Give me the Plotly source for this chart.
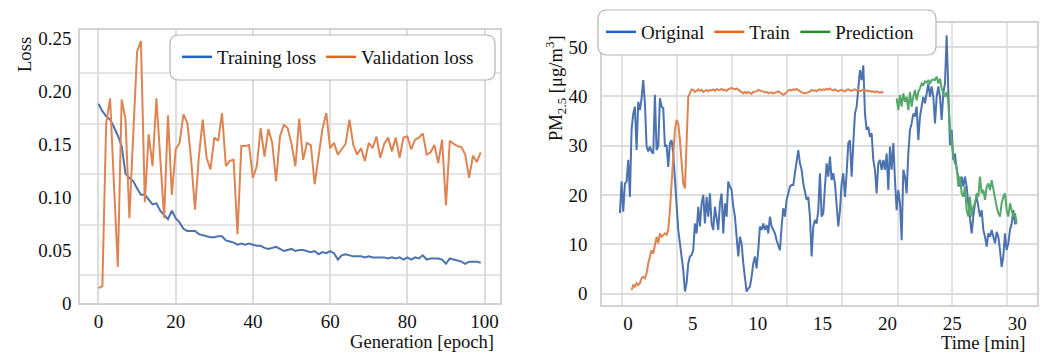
import plotly.graph_objects as go

W, H = 1044, 354
SERIF = "Liberation Serif, Times New Roman, serif"

# ---------------- training history ----------------
epochs = list(range(100))

training_loss = [
    0.188, 0.181, 0.176, 0.173, 0.166, 0.158, 0.148, 0.122, 0.118, 0.115,
    0.108, 0.102, 0.102, 0.097, 0.093, 0.094, 0.087, 0.083, 0.079, 0.087,
    0.080, 0.076, 0.070, 0.068, 0.068, 0.068, 0.065, 0.064, 0.063, 0.062,
    0.062, 0.063, 0.063, 0.059, 0.058, 0.057, 0.055, 0.056, 0.055, 0.056,
    0.055, 0.054, 0.054, 0.052, 0.051, 0.052, 0.053, 0.051, 0.049, 0.050,
    0.051, 0.049, 0.050, 0.050, 0.049, 0.048, 0.049, 0.046, 0.048, 0.047,
    0.049, 0.047, 0.041, 0.045, 0.046, 0.045, 0.044, 0.044, 0.044, 0.043,
    0.044, 0.043, 0.043, 0.043, 0.043, 0.042, 0.043, 0.042, 0.043, 0.041,
    0.043, 0.041, 0.043, 0.042, 0.045, 0.041, 0.042, 0.042, 0.042, 0.041,
    0.037, 0.042, 0.041, 0.040, 0.039, 0.037, 0.039, 0.039, 0.039, 0.038,
]

validation_loss = [
    0.014, 0.016, 0.170, 0.193, 0.113, 0.034, 0.192, 0.173, 0.080, 0.160,
    0.237, 0.247, 0.095, 0.159, 0.129, 0.193, 0.135, 0.080, 0.177, 0.102,
    0.145, 0.151, 0.178, 0.170, 0.135, 0.088, 0.138, 0.173, 0.137, 0.126,
    0.156, 0.153, 0.179, 0.129, 0.134, 0.135, 0.065, 0.148, 0.148, 0.149,
    0.118, 0.129, 0.165, 0.138, 0.164, 0.151, 0.115, 0.157, 0.168, 0.165,
    0.150, 0.129, 0.174, 0.135, 0.151, 0.149, 0.112, 0.140, 0.164, 0.179,
    0.146, 0.151, 0.140, 0.145, 0.150, 0.173, 0.149, 0.140, 0.146, 0.134,
    0.151, 0.146, 0.157, 0.137, 0.150, 0.156, 0.143, 0.156, 0.137, 0.156,
    0.157, 0.145, 0.154, 0.156, 0.160, 0.140, 0.142, 0.149, 0.132, 0.154,
    0.092, 0.153, 0.150, 0.148, 0.147, 0.140, 0.118, 0.139, 0.133, 0.142,
]

loss_ticks = [0, 0.05, 0.10, 0.15, 0.20, 0.25]
loss_tick_text = ["0", "0.05", "0.10", "0.15", "0.20", "0.25"]
epoch_ticks = [0, 20, 40, 60, 80, 100]

# ---------------- PM2.5 time series (sampled every T_STEP minutes) ----------------
T_STEP = 0.1285
original_start = -0.62
train_start = original_start + 7 * T_STEP
prediction_start = original_start + 166 * T_STEP

original_pm = [
    16.3, 22.7, 16.6, 22.3, 22.7, 27.1, 19.6, 33.2, 36.5, 37.9,
    29.1, 38.9, 37.2, 39.6, 43.3, 38.6, 29.8, 28.8, 29.8, 28.8,
    28.4, 40.3, 29.1, 29.8, 39.6, 37.9, 37.6, 29.8, 30.1, 25.7,
    30.5, 31.1, 28.4, 23.0, 16.3, 12.9, 10.2, 7.5, 4.8, 0.4,
    2.1, 6.1, 7.5, 7.8, 8.8, 14.2, 12.2, 17.6, 13.6, 18.3,
    20.0, 14.2, 19.6, 15.6, 20.3, 14.2, 12.9, 17.6, 14.9, 12.9,
    18.3, 20.3, 12.2, 18.3, 15.6, 22.7, 21.7, 21.0, 17.6, 15.6,
    11.5, 7.5, 11.5, 10.2, 6.1, 2.7, 0.4, 1.0,
    1.4, 3.4, 6.1, 7.5, 5.1, 8.8, 13.6, 12.9, 14.2, 12.9,
    13.9, 12.2, 15.6, 13.6, 12.9, 12.2, 10.8, 9.5, 8.8, 13.6,
    17.3, 15.6, 19.0, 20.3, 21.7, 22.0, 22.0, 24.4, 27.1, 29.1,
    26.4, 25.1, 22.3, 20.3, 19.0, 19.6, 15.6, 7.5, 13.6, 14.9,
    14.2, 16.9, 24.4, 15.6, 16.3, 21.7, 26.4, 23.7, 27.8, 23.0,
    24.4, 22.3, 17.6, 13.6, 16.9, 22.3, 24.4, 19.6, 24.4, 30.5,
    31.1, 23.7, 30.5, 36.5, 37.9, 41.3, 45.3, 43.3, 46.3, 36.5,
    33.2, 33.8, 31.8, 32.5, 27.1, 25.1, 20.3, 26.4, 27.1, 25.1,
    27.1, 25.1, 28.4, 21.0,
    29.8, 25.1, 30.5, 23.0, 16.9, 21.0, 18.3, 10.8, 25.1, 23.7,
    20.3, 28.4, 33.2, 34.5, 36.5, 35.9, 37.9, 31.1, 35.9, 37.9,
    39.9, 38.6, 40.9, 42.6, 39.9, 42.0, 39.9, 34.5, 39.9, 42.0,
    39.9, 35.2, 40.6, 42.6, 52.4, 39.9, 30.1, 33.2, 27.1, 28.4,
    25.1, 23.7, 21.7, 23.7, 21.7, 23.7, 21.7, 18.3, 14.9, 12.2,
    15.6, 18.3, 19.6, 17.6, 15.6, 16.9, 12.9, 11.5, 9.5, 12.2,
    11.5, 12.9, 11.5, 10.2, 12.5, 11.5, 8.8, 5.4, 7.5, 12.2,
    8.8, 10.2, 12.9, 14.2, 16.9, 14.2, 14.2,
]

train_pm = [
    0.7, 1.7, 1.4, 2.1, 1.7, 2.1, 3.1, 3.4, 3.1, 4.1,
    6.1, 7.5, 8.8, 8.1, 10.2, 11.5, 10.2, 12.2, 11.5, 11.9,
    12.2, 11.9, 12.9, 16.9, 22.3, 27.8, 33.2, 35.2, 34.5, 31.1,
    25.7, 22.3, 21.3, 31.1, 39.9, 40.6, 41.4,
    41.3, 40.9, 41.1, 41.4, 41.1, 41.3, 40.9, 41.1, 41.3, 41.0,
    41.3, 41.2, 41.4, 41.1, 41.5, 41.3, 41.3, 41.5, 41.2, 41.3,
    41.1, 41.4, 41.5, 41.7, 41.5, 41.4, 41.6, 41.3, 41.1, 40.9,
    40.6, 40.9, 40.6, 40.9, 40.7, 40.5, 40.9, 41.0,
    41.0, 41.3, 41.2, 41.0, 40.9, 40.8, 40.9, 40.6, 40.7, 40.8,
    40.6, 40.7, 40.9, 41.0, 40.8, 40.6, 40.3, 40.5, 40.9, 41.2,
    41.3, 41.2, 41.4, 41.3, 41.5, 41.2, 41.0, 40.8, 40.7, 40.6,
    40.7, 40.8, 41.0, 41.3, 41.1, 41.2, 41.0, 41.3, 41.4, 41.2,
    41.4, 41.3, 41.5, 41.4, 41.6, 41.3, 41.2, 41.4, 41.2, 41.0,
    41.2, 41.3, 41.1, 41.0, 41.3, 41.4, 41.2, 41.1, 41.3, 41.4,
    41.2, 41.3, 41.0, 41.2, 41.4, 41.1, 41.2, 41.0, 41.1, 40.9,
    41.0, 40.8, 41.0, 40.9, 40.7, 40.9, 40.6,
]

prediction_pm = [
    39.6, 37.2, 40.3, 37.9, 40.6, 38.9, 39.9, 37.2, 40.9, 37.9,
    39.9, 41.3, 39.2, 40.9, 41.6, 42.6, 42.3, 43.0, 42.8, 43.3,
    42.6, 43.3, 43.4, 43.3, 44.0, 42.6, 43.6, 41.6, 40.6, 39.9,
    40.9, 38.9, 33.8, 31.1, 27.8, 26.4, 25.7, 21.7, 23.7, 20.3,
    19.6, 21.7, 16.9, 15.6, 19.6, 15.6, 17.6, 18.3, 20.3, 19.6,
    23.7, 20.3, 21.0, 19.0, 21.7, 22.3, 21.0, 23.0, 21.0, 19.6,
    17.6, 16.3, 15.6, 18.3, 19.6, 20.3, 16.9, 15.6, 18.3, 16.9,
    15.6, 16.3, 14.2,
]

pm_ticks = [0, 10, 20, 30, 40, 50]
time_ticks = [0, 5, 10, 15, 20, 25, 30]


def sample_times(start, values):
    return [start + i * T_STEP for i in range(len(values))]


# ---------------- styling ----------------
BLUE, ORANGE, GREEN = "#4C72B0", "#DD8452", "#55A868"
BLUE_KEY, ORANGE_KEY, GREEN_KEY = "#1F63C6", "#E5661A", "#22902E"
GRID = "#dddddd"
FRAME = "#d3d3d3"
TEXT = "#111111"

# light grid drawn independently of the tick labels
loss_grid = [0.0264, 0.0736, 0.1217, 0.1689, 0.217]
time_grid = [-0.46, 3.78, 8.02, 12.26, 16.5, 20.82, 24.98, 29.22]

fig = go.Figure()

# left panel: loss curves
fig.add_trace(go.Scatter(x=epochs, y=training_loss, mode="lines",
                         line=dict(color=BLUE, width=2), showlegend=False,
                         xaxis="x", yaxis="y"))
fig.add_trace(go.Scatter(x=epochs, y=validation_loss, mode="lines",
                         line=dict(color=ORANGE, width=2), showlegend=False,
                         xaxis="x", yaxis="y"))
# right panel: PM2.5
fig.add_trace(go.Scatter(x=sample_times(original_start, original_pm), y=original_pm,
                         mode="lines", line=dict(color=BLUE, width=2),
                         showlegend=False, xaxis="x2", yaxis="y2"))
fig.add_trace(go.Scatter(x=sample_times(train_start, train_pm), y=train_pm,
                         mode="lines", line=dict(color=ORANGE, width=2),
                         showlegend=False, xaxis="x2", yaxis="y2"))
fig.add_trace(go.Scatter(x=sample_times(prediction_start, prediction_pm), y=prediction_pm,
                         mode="lines", line=dict(color=GREEN, width=2),
                         showlegend=False, xaxis="x2", yaxis="y2"))

# legend keys
for name, color, leg, ax in [("Training loss", BLUE_KEY, "legend", ("x", "y")),
                             ("Validation loss", ORANGE_KEY, "legend", ("x", "y")),
                             ("Original", BLUE_KEY, "legend2", ("x2", "y2")),
                             ("Train", ORANGE_KEY, "legend2", ("x2", "y2")),
                             ("Prediction", GREEN_KEY, "legend2", ("x2", "y2"))]:
    fig.add_trace(go.Scatter(x=[None], y=[None], mode="lines", name=name,
                             line=dict(color=color, width=2.5), legend=leg,
                             xaxis=ax[0], yaxis=ax[1]))


def px_x(X):
    return X / W


def px_y(Y):
    return 1 - Y / H


def rounded_box(x0, y0, x1, y1, r):
    pts = [
        ("M", [(x0 + r, y0)]), ("L", [(x1 - r, y0)]), ("Q", [(x1, y0), (x1, y0 + r)]),
        ("L", [(x1, y1 - r)]), ("Q", [(x1, y1), (x1 - r, y1)]),
        ("L", [(x0 + r, y1)]), ("Q", [(x0, y1), (x0, y1 - r)]),
        ("L", [(x0, y0 + r)]), ("Q", [(x0, y0), (x0 + r, y0)]),
    ]
    path = ""
    for cmd, coords in pts:
        path += cmd + " " + " ".join(f"{px_x(a):.5f},{px_y(b):.5f}" for a, b in coords) + " "
    return path + "Z"


shapes = []
for v in loss_grid:
    shapes.append(dict(type="line", xref="x domain", yref="y", x0=0, x1=1, y0=v, y1=v,
                       line=dict(color=GRID, width=1.6), layer="below"))
for t in time_grid:
    shapes.append(dict(type="line", xref="x2", yref="y2 domain", x0=t, x1=t, y0=0, y1=1,
                       line=dict(color=GRID, width=1.6), layer="below"))
for box in [(170, 35, 495, 80), (598, 10, 936, 55)]:
    shapes.append(dict(type="path", xref="paper", yref="paper",
                       path=rounded_box(*box, 9), fillcolor="white",
                       line=dict(color="#b5b5b5", width=1.2), layer="above"))

axis_common = dict(showline=True, mirror=True, linecolor=FRAME, linewidth=1.5,
                   zeroline=False, ticks="", gridcolor=GRID, gridwidth=1.6,
                   automargin=False,
                   tickfont=dict(family=SERIF, size=19, color=TEXT))

legend_font = dict(family=SERIF, size=19, color=TEXT)

fig.update_layout(
    template="none",
    width=W, height=H,
    margin=dict(l=0, r=0, t=0, b=0, autoexpand=False),
    paper_bgcolor="white", plot_bgcolor="white",
    font=dict(family=SERIF, size=18.6, color=TEXT),
    xaxis=dict(domain=[px_x(80), px_x(500)], range=[-4.79, 104.0],
               tickvals=epoch_ticks, showgrid=True, anchor="y",
               ticklabelstandoff=0, **axis_common),
    yaxis=dict(domain=[px_y(303), px_y(30)], range=[0, 0.2575],
               tickvals=loss_ticks, ticktext=loss_tick_text, showgrid=False,
               anchor="x", ticklabelstandoff=3, **axis_common),
    xaxis2=dict(domain=[px_x(602), px_x(1037)], range=[-2.0, 31.53],
                tickvals=time_ticks, showgrid=False, anchor="y2",
                ticklabelstandoff=0, **axis_common),
    yaxis2=dict(domain=[px_y(305), px_y(23)], range=[-2.33, 54.87],
                tickvals=pm_ticks, showgrid=True, anchor="x2",
                ticklabelstandoff=9, **axis_common),
    legend=dict(orientation="h", x=px_x(177), y=px_y(38), xanchor="left", yanchor="top",
                bgcolor="rgba(0,0,0,0)", borderwidth=0, itemwidth=30,
                font=legend_font),
    legend2=dict(orientation="h", x=px_x(601), y=px_y(13), xanchor="left", yanchor="top",
                 bgcolor="rgba(0,0,0,0)", borderwidth=0, itemwidth=30,
                 font=legend_font),
    shapes=shapes,
    annotations=[
        dict(text="Loss", xref="paper", yref="paper", x=px_x(25), y=px_y(55),
             textangle=-90, showarrow=False, xanchor="center", yanchor="middle",
             font=dict(family=SERIF, size=18.6, color=TEXT)),
        dict(text="Generation [epoch]", xref="paper", yref="paper", x=px_x(496), y=px_y(341),
             showarrow=False, xanchor="right", yanchor="middle",
             font=dict(family=SERIF, size=18.6, color=TEXT)),
        dict(text="PM<sub>2.5</sub> [μg/m<sup>3</sup>]", xref="paper", yref="paper",
             x=px_x(555), y=px_y(88), textangle=-90, showarrow=False,
             xanchor="center", yanchor="middle",
             font=dict(family=SERIF, size=18.6, color=TEXT)),
        dict(text="Time [min]", xref="paper", yref="paper", x=px_x(1028), y=px_y(342),
             showarrow=False, xanchor="right", yanchor="middle",
             font=dict(family=SERIF, size=18.6, color=TEXT)),
    ],
)

fig.write_html("out.html")
